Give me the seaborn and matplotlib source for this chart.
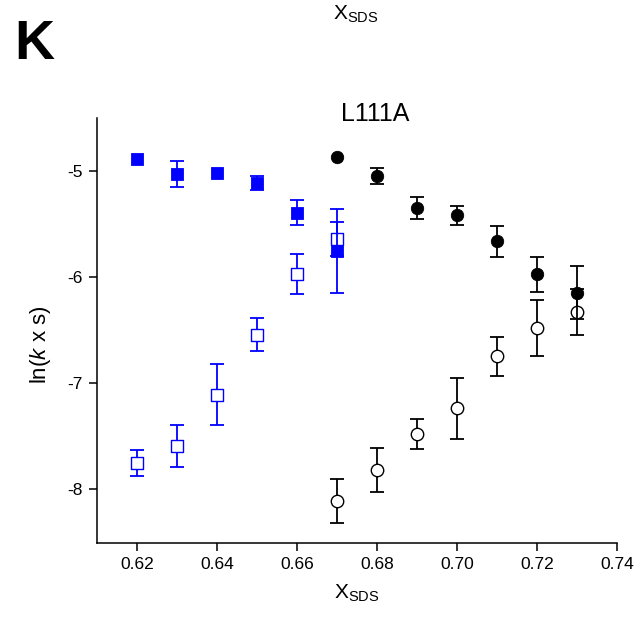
import numpy as np
import pandas as pd
import matplotlib
matplotlib.use("Agg")
import matplotlib.pyplot as plt
import seaborn as sns

# SDS mole fraction for each branch
x_blue = [0.62, 0.63, 0.64, 0.65, 0.66, 0.67]
x_black = [0.67, 0.68, 0.69, 0.70, 0.71, 0.72, 0.73]

# ln(k x s) and uncertainties (nan = no error bar)
blue_filled = [-4.887, -5.03, -5.02, -5.116, -5.393, -5.755]
blue_filled_err = [np.nan, 0.12, np.nan, 0.068, 0.117, 0.40]
blue_open = [-7.757, -7.597, -7.11, -6.544, -5.972, -5.64]
blue_open_err = [0.12, 0.20, 0.29, 0.154, 0.19, 0.16]

black_filled = [-4.868, -5.047, -5.346, -5.42, -5.663, -5.975, -6.148]
black_filled_err = [np.nan, 0.075, 0.105, 0.093, 0.145, 0.168, 0.25]
black_open = [-8.116, -7.82, -7.484, -7.24, -6.75, -6.48, -6.33]
black_open_err = [0.21, 0.21, 0.14, 0.285, 0.18, 0.265, 0.22]

x_ticks = [0.62, 0.64, 0.66, 0.68, 0.70, 0.72, 0.74]
y_ticks = [-5, -6, -7, -8]

sns.set_style("ticks")
plt.rcParams["font.family"] = ["Liberation Sans", "DejaVu Sans"]
plt.rcParams["mathtext.fontset"] = "custom"
plt.rcParams["mathtext.rm"] = "Liberation Sans"
plt.rcParams["mathtext.it"] = "Liberation Sans:italic"
plt.rcParams["text.color"] = "black"
plt.rcParams["axes.labelcolor"] = "black"

BLUE = "#0000ff"
BLACK = "#000000"

series = [
    ("blue_open", x_blue, blue_open, blue_open_err, "s", BLUE, False, 66),
    ("blue_filled", x_blue, blue_filled, blue_filled_err, "s", BLUE, True, 70),
    ("black_open", x_black, black_open, black_open_err, "o", BLACK, False, 80),
    ("black_filled", x_black, black_filled, black_filled_err, "o", BLACK, True, 80),
]

frames = []
for name, xs, ys, es, *_ in series:
    frames.append(pd.DataFrame({"x": xs, "y": ys, "err": es, "series": name}))
df = pd.concat(frames, ignore_index=True)

fig = plt.figure(figsize=(6.39, 6.19), dpi=100)
ax = fig.add_axes([0.1518, 0.1228, 0.8138, 0.6866])

for z, (name, _, _, _, marker, color, filled, size) in enumerate(series):
    sub = df[df["series"] == name]
    ax.errorbar(sub["x"], sub["y"], yerr=sub["err"], fmt="none",
                ecolor=color, elinewidth=1.3, capsize=5, capthick=1.3,
                zorder=2 + 2 * z)
    sns.scatterplot(data=sub, x="x", y="y", ax=ax, marker=marker, s=size,
                    color=color if filled else "white",
                    edgecolor=color, linewidth=1.0 if not filled else 0.6,
                    legend=False, zorder=3 + 2 * z)

ax.set_xlim(0.61, 0.74)
ax.set_ylim(-8.51, -4.5)
ax.set_xticks(x_ticks)
ax.set_xticklabels([f"{t:.2f}" for t in x_ticks])
ax.set_yticks(y_ticks)
ax.set_yticklabels([f"{t:d}" for t in y_ticks])
ax.tick_params(axis="both", direction="out", length=6, width=1.1,
               labelsize=12.5, pad=4, color="black", labelcolor="black")

sns.despine(ax=ax)
for side in ("left", "bottom"):
    ax.spines[side].set_linewidth(1.1)
    ax.spines[side].set_color("black")

ax.set_xlabel(r"$\mathregular{X_{SDS}}$", fontsize=15, labelpad=8)
ax.set_ylabel(r"ln($\mathit{k}$ x s)", fontsize=16)
ax.yaxis.set_label_coords(-0.085, 0.466)

fig.text(0.587, 0.805, "L111A", fontsize=18, ha="center", va="baseline")
fig.text(0.022, 0.905, "K", fontsize=40, fontweight="bold", va="baseline")
fig.text(0.556, 0.968, r"$\mathregular{X_{SDS}}$", fontsize=15,
         ha="center", va="baseline")

fig.savefig("out.png", dpi=100)
